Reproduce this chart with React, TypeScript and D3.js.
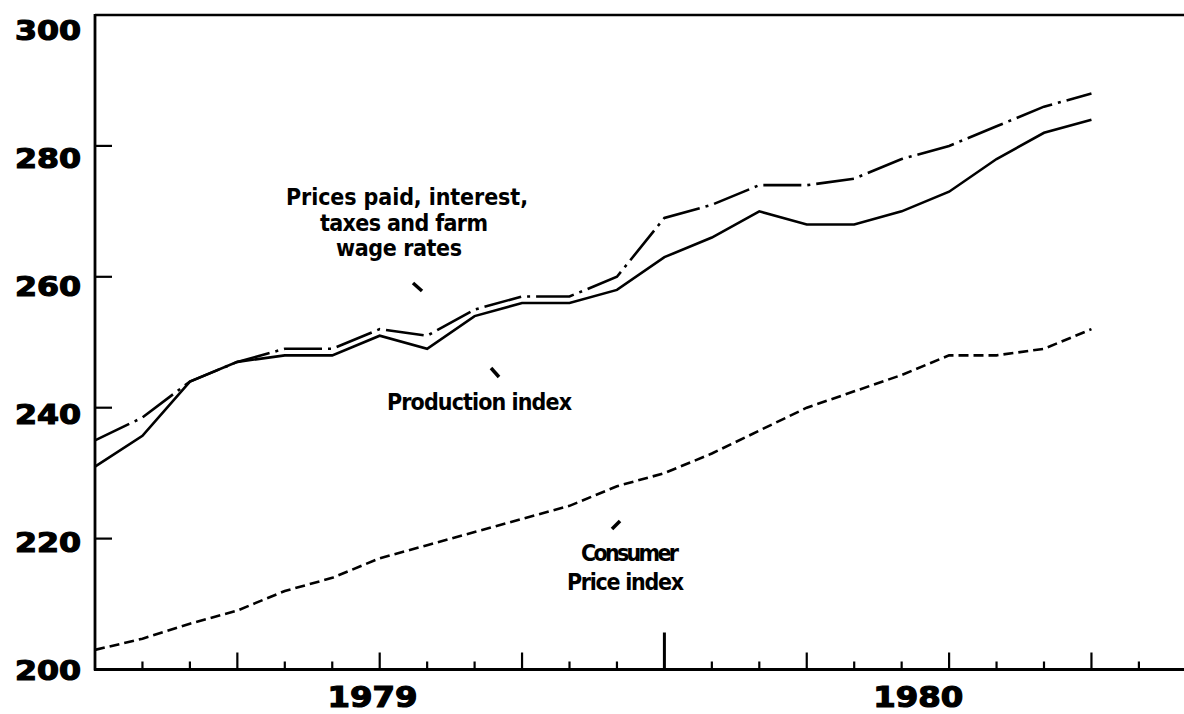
import React from "react";
import * as d3 from "d3";

// ---- data ----
const months = [
  "Jan 1979", "Feb 1979", "Mar 1979", "Apr 1979", "May 1979", "Jun 1979",
  "Jul 1979", "Aug 1979", "Sep 1979", "Oct 1979", "Nov 1979", "Dec 1979",
  "Jan 1980", "Feb 1980", "Mar 1980", "Apr 1980", "May 1980", "Jun 1980",
  "Jul 1980", "Aug 1980", "Sep 1980", "Oct 1980",
];
const pricesPaid = [235, 238.5, 244, 247, 249, 249, 252, 251, 255, 257, 257, 260, 269, 271, 274, 274, 275, 278, 280, 283, 286, 288];
const productionIndex = [231, 235.7, 244, 247, 248, 248, 251, 249, 254, 256, 256, 258, 263, 266, 270, 268, 268, 270, 273, 278, 282, 284];
const consumerPrice = [203, 204.7, 207, 209, 212, 214, 217, 219, 221, 223, 225, 228, 230, 233, 236.5, 240, 242.5, 245, 248, 248, 249, 252];
const yTickValues = [300, 280, 260, 240, 220, 200];
const yInnerTicks = [280, 260, 240, 220];
const monthTicks = d3.range(1, 23);
const yearLabels = ["1979", "1980"];
const yearCenters = [5.85, 17.35]; // in month units

const W = 1184;
const H = 714;

export default function App() {
  const x = d3.scaleLinear().domain([0, months.length]).range([95, 95 + months.length * 47.45]);
  const y = d3.scaleLinear().domain([200, 300]).range([669.5, 15]);
  const left = x(0);
  const bottom = y(200);
  const top = y(300);

  const line = d3
    .line<number>()
    .x((_, i) => x(i))
    .y((d) => y(d));

  const heavy = "'DejaVu Sans', 'Liberation Sans', sans-serif";
  const narrow = "'Liberation Sans Narrow', 'DejaVu Sans Condensed', 'Liberation Sans', sans-serif";

  const tickLen = (m: number) => (m === 12 ? 37 : m % 3 === 0 ? 17 : 8);

  const annot = (txt: string, x0: number, yb: number, len: number) => (
    <text
      key={txt}
      x={x0}
      y={yb}
      fontFamily={narrow}
      fontWeight="bold"
      fontSize={23}
      textLength={len}
      lengthAdjust="spacing"
      fill="#000"
    >
      {txt}
    </text>
  );

  return (
    <svg
      width={W}
      height={H}
      style={{ position: "absolute", left: 0, top: 0, background: "#fff" }}
    >
      <rect x={0} y={0} width={W} height={H} fill="#fff" />
      {/* frame */}
      <line x1={left} y1={top} x2={W} y2={top} stroke="#000" strokeWidth={2.5} />
      <line x1={left} y1={top - 1} x2={left} y2={bottom + 1} stroke="#000" strokeWidth={2.8} />
      <line x1={left - 1} y1={bottom} x2={W} y2={bottom} stroke="#000" strokeWidth={2.8} />

      {/* y inner ticks */}
      {yInnerTicks.map((v) => (
        <line key={v} x1={left} x2={left + 17} y1={y(v)} y2={y(v)} stroke="#000" strokeWidth={2.2} />
      ))}
      {/* y labels */}
      {yTickValues.map((v) => (
        <text
          key={v}
          x={81}
          y={y(v) + 10 + 0.15 * (v - 200)}
          textAnchor="end"
          fontFamily={heavy}
          fontWeight="bold"
          fontSize={27}
          textLength={66}
          lengthAdjust="spacingAndGlyphs"
          stroke="#000"
          strokeWidth={1.2}
          fill="#000"
        >
          {v}
        </text>
      ))}

      {/* month ticks */}
      {monthTicks.map((m) => (
        <line
          key={m}
          x1={x(m)}
          x2={x(m)}
          y1={bottom}
          y2={bottom - tickLen(m)}
          stroke="#000"
          strokeWidth={m === 12 ? 3 : 2.2}
        />
      ))}
      {/* year labels */}
      {yearLabels.map((lab, i) => (
        <text
          key={lab}
          x={x(yearCenters[i])}
          y={707}
          textAnchor="middle"
          fontFamily={heavy}
          fontWeight="bold"
          fontSize={28}
          textLength={90}
          lengthAdjust="spacingAndGlyphs"
          stroke="#000"
          strokeWidth={1.2}
          fill="#000"
        >
          {lab}
        </text>
      ))}

      {/* series */}
      <path d={line(pricesPaid) || ""} fill="none" stroke="#000" strokeWidth={2.6} strokeDasharray="38 6 3 6" />
      <path d={line(productionIndex) || ""} fill="none" stroke="#000" strokeWidth={2.6} />
      <path d={line(consumerPrice) || ""} fill="none" stroke="#000" strokeWidth={2.6} strokeDasharray="10 5" />

      {/* annotations */}
      {annot("Prices paid, interest,", 286, 205, 242)}
      {annot("taxes and farm", 320, 231, 168)}
      {annot("wage rates", 336, 256, 126)}
      {annot("Production index", 387, 410, 185)}
      {annot("Consumer", 581, 561, 98)}
      {annot("Price index", 567, 590, 117)}

      {/* pointer marks */}
      <line x1={413} y1={283} x2={422} y2={291} stroke="#000" strokeWidth={3.5} />
      <line x1={491} y1={368} x2={499} y2={377} stroke="#000" strokeWidth={3.5} />
      <line x1={612} y1={529} x2={620} y2={521} stroke="#000" strokeWidth={3.5} />
    </svg>
  );
}
